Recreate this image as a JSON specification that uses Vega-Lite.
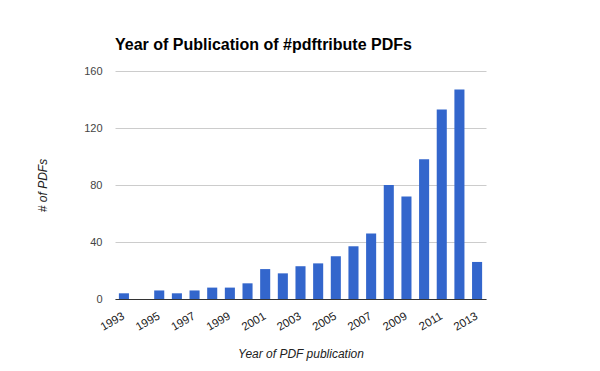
{
  "$schema": "https://vega.github.io/schema/vega-lite/v6.json",
  "width": 371,
  "height": 228,
  "autosize": {"type": "none"},
  "padding": {"left": 115, "top": 71, "right": 114, "bottom": 72},
  "background": "white",
  "title": {
    "text": "Year of Publication of #pdftribute PDFs",
    "anchor": "start",
    "frame": "group",
    "font": "Liberation Sans",
    "fontSize": 16,
    "fontWeight": "bold",
    "color": "#000000",
    "baseline": "alphabetic",
    "offset": -1
  },
  "data": {
    "values": [
      {"year": 1993, "count": 4},
      {"year": 1994, "count": 0},
      {"year": 1995, "count": 6},
      {"year": 1996, "count": 4},
      {"year": 1997, "count": 6},
      {"year": 1998, "count": 8},
      {"year": 1999, "count": 8},
      {"year": 2000, "count": 11},
      {"year": 2001, "count": 21},
      {"year": 2002, "count": 18},
      {"year": 2003, "count": 23},
      {"year": 2004, "count": 25},
      {"year": 2005, "count": 30},
      {"year": 2006, "count": 37},
      {"year": 2007, "count": 46},
      {"year": 2008, "count": 80},
      {"year": 2009, "count": 72},
      {"year": 2010, "count": 98},
      {"year": 2011, "count": 133},
      {"year": 2012, "count": 147},
      {"year": 2013, "count": 26}
    ]
  },
  "mark": {"type": "bar", "color": "#3366cc"},
  "encoding": {
    "x": {
      "field": "year",
      "type": "ordinal",
      "scale": {"paddingInner": 0.43, "paddingOuter": 0.22},
      "axis": {
        "title": "Year of PDF publication",
        "values": [1993, 1995, 1997, 1999, 2001, 2003, 2005, 2007, 2009, 2011, 2013],
        "labelAngle": -30,
        "labelAlign": "right",
        "labelBaseline": "top",
        "labelPadding": 11,
        "labelOffset": -3,
        "labelFont": "Liberation Sans",
        "labelFontSize": 11.5,
        "labelColor": "#222222",
        "ticks": false,
        "domainColor": "#333333",
        "domainWidth": 1,
        "titleFont": "Liberation Sans",
        "titleFontSize": 12,
        "titleFontStyle": "italic",
        "titleFontWeight": "normal",
        "titleColor": "#222222",
        "titlePadding": 16
      }
    },
    "y": {
      "field": "count",
      "type": "quantitative",
      "scale": {"domain": [0, 160], "nice": false},
      "axis": {
        "title": "# of PDFs",
        "values": [0, 40, 80, 120, 160],
        "grid": true,
        "gridColor": "#cccccc",
        "domain": false,
        "ticks": false,
        "labelPadding": 13,
        "labelFont": "Liberation Sans",
        "labelFontSize": 11,
        "labelColor": "#444444",
        "titleFont": "Liberation Sans",
        "titleFontSize": 12,
        "titleFontStyle": "italic",
        "titleFontWeight": "normal",
        "titleColor": "#222222",
        "titlePadding": 34
      }
    }
  },
  "config": {"view": {"stroke": null}}
}
